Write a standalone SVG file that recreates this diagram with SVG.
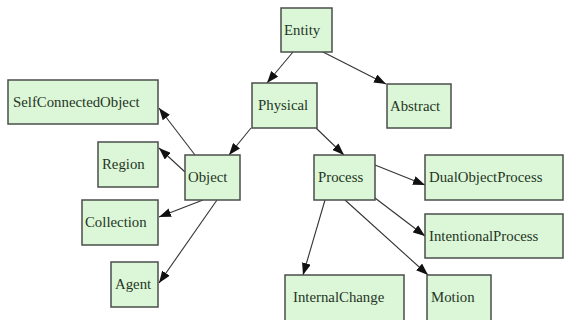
<svg xmlns="http://www.w3.org/2000/svg" width="566" height="320" viewBox="0 0 566 320">
<style>
.box{fill:#dcf7d8;stroke:#4a4f4a;stroke-width:1.5}
.lbl{font-family:"Liberation Serif","Times New Roman",serif;font-size:14.8px;fill:#253525}
.edge{stroke:#333;stroke-width:1.1;fill:none;marker-end:url(#ah)}
</style>
<defs>
<marker id="ah" markerUnits="userSpaceOnUse" markerWidth="12" markerHeight="9" refX="12" refY="4.5" orient="auto">
<path d="M0,0 L12,4.5 L0,9 z" fill="#111"/>
</marker>
</defs>
<rect width="566" height="320" fill="#fff"/>
<g id="connectors">
<line class="edge" x1="293" y1="52" x2="267" y2="83"/>
<line class="edge" x1="323" y1="52" x2="386" y2="84"/>
<line class="edge" x1="251" y1="128" x2="229" y2="155"/>
<line class="edge" x1="316" y1="128" x2="344" y2="155"/>
<line class="edge" x1="195" y1="155" x2="159" y2="108"/>
<line class="edge" x1="185" y1="172" x2="159" y2="148"/>
<line class="edge" x1="203" y1="200" x2="159" y2="217"/>
<line class="edge" x1="217" y1="200" x2="159" y2="283"/>
<line class="edge" x1="375" y1="165" x2="425" y2="185"/>
<line class="edge" x1="375" y1="198" x2="425" y2="236"/>
<line class="edge" x1="325" y1="200" x2="303" y2="275"/>
<line class="edge" x1="345" y1="200" x2="428" y2="275"/>
</g>
<g id="Entity"><rect class="box" x="281" y="8" width="51" height="44"/><text class="lbl" x="284" y="35">Entity</text></g>
<g id="Physical"><rect class="box" x="252" y="83" width="65" height="45"/><text class="lbl" x="258" y="110">Physical</text></g>
<g id="Abstract"><rect class="box" x="387" y="84" width="64" height="44"/><text class="lbl" x="390" y="111">Abstract</text></g>
<g id="SelfConnectedObject"><rect class="box" x="8" y="80" width="150" height="44"/><text class="lbl" x="13" y="107">SelfConnectedObject</text></g>
<g id="Region"><rect class="box" x="98" y="142" width="60" height="45"/><text class="lbl" x="102" y="169">Region</text></g>
<g id="Object"><rect class="box" x="185" y="155" width="55" height="45"/><text class="lbl" x="188" y="182">Object</text></g>
<g id="Collection"><rect class="box" x="82" y="200" width="76" height="45"/><text class="lbl" x="85" y="227">Collection</text></g>
<g id="Agent"><rect class="box" x="111" y="262" width="47" height="45"/><text class="lbl" x="115" y="289">Agent</text></g>
<g id="Process"><rect class="box" x="314" y="155" width="61" height="45"/><text class="lbl" x="318" y="182">Process</text></g>
<g id="DualObjectProcess"><rect class="box" x="425" y="155" width="138" height="45"/><text class="lbl" x="429" y="182">DualObjectProcess</text></g>
<g id="IntentionalProcess"><rect class="box" x="425" y="214" width="138" height="44"/><text class="lbl" x="429" y="241">IntentionalProcess</text></g>
<g id="InternalChange"><rect class="box" x="285" y="275" width="119" height="50"/><text class="lbl" x="293" y="302">InternalChange</text></g>
<g id="Motion"><rect class="box" x="427" y="275" width="64" height="50"/><text class="lbl" x="431" y="302">Motion</text></g>
</svg>
